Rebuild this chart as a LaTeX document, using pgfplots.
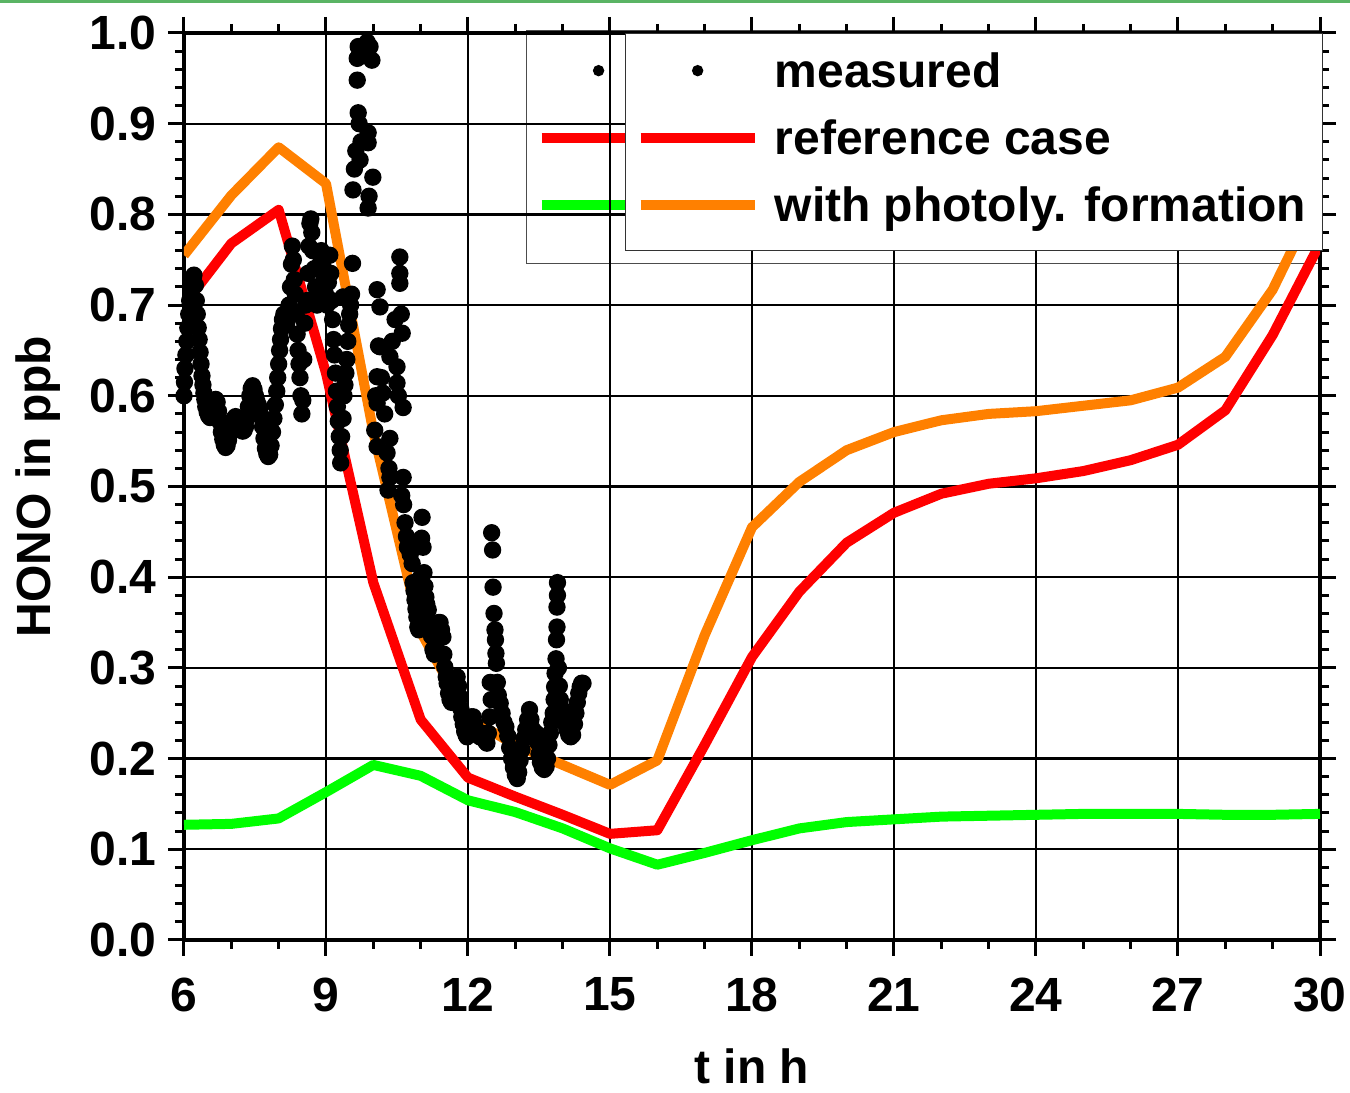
\documentclass[border=0pt]{standalone}
\usepackage{pgfplots}
\pgfplotsset{compat=1.18}
\usepackage{fontspec}
\setmainfont{Liberation Sans}
\definecolor{cred}{RGB}{255,0,0}
\definecolor{corange}{RGB}{255,128,0}
\definecolor{cgreen}{RGB}{0,255,0}
\definecolor{topgreen}{RGB}{90,180,100}
\newcommand\lfont{\fontsize{14.4}{17}\selectfont\bfseries}

\pgfplotstableread{
x y
6.00 0.600
6.01 0.615
6.02 0.630
6.04 0.645
6.06 0.660
6.08 0.675
6.10 0.690
6.12 0.705
6.15 0.715
6.18 0.725
6.21 0.733
6.24 0.722
6.26 0.705
6.28 0.690
6.30 0.675
6.32 0.662
6.34 0.648
6.36 0.635
6.38 0.622
6.40 0.612
6.42 0.603
6.44 0.596
6.46 0.588
6.49 0.582
6.52 0.578
6.55 0.576
6.58 0.580
6.61 0.586
6.64 0.592
6.67 0.596
6.70 0.593
6.73 0.583
6.76 0.571
6.79 0.560
6.82 0.552
6.85 0.546
6.88 0.543
6.91 0.545
6.94 0.551
6.97 0.558
7.00 0.565
7.03 0.571
7.06 0.575
7.09 0.577
7.12 0.576
7.15 0.572
7.18 0.567
7.21 0.563
7.24 0.561
7.27 0.562
7.30 0.566
7.33 0.575
7.36 0.588
7.39 0.600
7.42 0.608
7.45 0.611
7.48 0.607
7.51 0.600
7.54 0.594
7.57 0.590
7.60 0.586
7.63 0.578
7.66 0.566
7.69 0.553
7.72 0.542
7.75 0.536
7.78 0.533
7.81 0.535
7.84 0.545
7.87 0.560
7.90 0.575
7.93 0.590
7.96 0.605
7.98 0.620
8.00 0.635
8.02 0.650
8.04 0.662
8.06 0.674
8.08 0.684
8.11 0.690
8.14 0.688
8.17 0.680
8.20 0.690
8.22 0.700
8.25 0.720
8.27 0.745
8.29 0.765
8.31 0.750
8.33 0.728
8.35 0.712
8.37 0.690
8.39 0.668
8.41 0.650
8.43 0.635
8.45 0.620
8.47 0.600
8.49 0.580
8.51 0.595
8.53 0.640
8.55 0.680
8.57 0.700
8.60 0.705
8.62 0.735
8.64 0.765
8.66 0.790
8.68 0.795
8.70 0.780
8.72 0.760
8.75 0.740
8.78 0.720
8.81 0.700
8.84 0.715
8.87 0.745
8.90 0.760
8.93 0.745
8.96 0.728
8.99 0.712
9.02 0.700
9.05 0.725
9.08 0.755
9.10 0.735
9.12 0.705
9.14 0.684
9.16 0.662
9.18 0.645
9.20 0.625
9.22 0.605
9.24 0.588
9.26 0.572
9.28 0.555
9.30 0.540
9.31 0.526
9.33 0.555
9.36 0.575
9.38 0.600
9.40 0.612
9.42 0.625
9.44 0.640
9.46 0.660
9.48 0.678
9.50 0.690
9.52 0.700
9.54 0.712
9.36 0.709
9.56 0.746
9.57 0.827
9.60 0.850
9.63 0.870
9.66 0.948
9.66 0.972
9.68 0.985
9.68 0.912
9.70 0.900
9.72 0.860
9.74 0.880
9.78 0.975
9.82 0.980
9.87 0.990
9.89 0.890
9.89 0.879
9.89 0.807
9.91 0.820
9.93 0.985
9.97 0.970
9.99 0.841
10.03 0.562
10.05 0.600
10.08 0.717
10.08 0.621
10.08 0.592
10.08 0.544
10.11 0.655
10.14 0.698
10.14 0.654
10.17 0.620
10.20 0.603
10.24 0.580
10.29 0.537
10.31 0.496
10.33 0.520
10.35 0.510
10.35 0.553
10.35 0.643
10.40 0.660
10.46 0.684
10.50 0.632
10.50 0.614
10.53 0.600
10.56 0.753
10.56 0.735
10.56 0.724
10.59 0.690
10.61 0.669
10.63 0.587
10.63 0.510
10.60 0.490
10.64 0.480
10.67 0.460
10.70 0.445
10.72 0.433
10.75 0.440
10.78 0.425
10.82 0.415
10.84 0.394
10.86 0.385
10.88 0.375
10.90 0.365
10.92 0.356
10.94 0.345
10.96 0.342
10.98 0.360
11.00 0.400
11.02 0.443
11.03 0.466
11.05 0.433
11.07 0.405
11.09 0.390
11.11 0.378
11.13 0.370
11.16 0.364
11.18 0.350
11.20 0.345
11.23 0.335
11.26 0.320
11.29 0.315
11.32 0.325
11.35 0.340
11.38 0.350
11.41 0.350
11.44 0.342
11.47 0.334
11.49 0.315
11.51 0.301
11.54 0.290
11.56 0.283
11.59 0.272
11.62 0.265
11.65 0.262
11.68 0.268
11.71 0.280
11.74 0.288
11.77 0.290
11.80 0.280
11.83 0.268
11.85 0.255
11.87 0.246
11.90 0.238
11.93 0.230
11.96 0.226
11.98 0.224
12.01 0.232
12.04 0.240
12.07 0.246
12.11 0.246
12.14 0.238
12.17 0.230
12.21 0.226
12.25 0.224
12.29 0.228
12.33 0.222
12.37 0.219
12.40 0.217
12.43 0.228
12.46 0.246
12.49 0.265
12.47 0.284
12.50 0.449
12.52 0.430
12.53 0.389
12.55 0.360
12.57 0.342
12.58 0.331
12.59 0.316
12.60 0.305
12.62 0.284
12.64 0.270
12.68 0.261
12.72 0.250
12.76 0.240
12.80 0.235
12.84 0.225
12.88 0.212
12.92 0.200
12.96 0.190
13.00 0.182
13.04 0.178
13.07 0.185
13.10 0.198
13.14 0.210
13.18 0.222
13.22 0.232
13.26 0.243
13.30 0.254
13.33 0.243
13.37 0.232
13.41 0.225
13.44 0.228
13.47 0.218
13.50 0.205
13.53 0.196
13.57 0.190
13.61 0.188
13.65 0.191
13.68 0.200
13.71 0.215
13.74 0.228
13.77 0.240
13.80 0.250
13.82 0.265
13.83 0.279
13.84 0.294
13.86 0.310
13.87 0.331
13.88 0.345
13.88 0.367
13.89 0.380
13.89 0.394
13.91 0.300
13.93 0.280
13.95 0.265
13.98 0.255
14.02 0.245
14.06 0.238
14.09 0.232
14.13 0.226
14.17 0.224
14.21 0.226
14.25 0.238
14.28 0.250
14.31 0.262
14.34 0.272
14.37 0.279
14.40 0.283
14.43 0.283
}\measured

\pgfplotstableread{
x y
6 0.700
7 0.768
8 0.805
9 0.625
10 0.394
11 0.243
12 0.179
13 0.158
14 0.138
15 0.117
16 0.121
17 0.215
18 0.312
19 0.384
20 0.438
21 0.471
22 0.492
23 0.503
24 0.509
25 0.517
26 0.529
27 0.546
28 0.584
29 0.667
30 0.768
}\refcase

\pgfplotstableread{
x y
6 0.755
7 0.821
8 0.874
9 0.834
10 0.560
11 0.340
12 0.245
13 0.215
14 0.193
15 0.171
16 0.198
17 0.336
18 0.455
19 0.505
20 0.540
21 0.560
22 0.573
23 0.580
24 0.583
25 0.589
26 0.595
27 0.609
28 0.643
29 0.717
30 0.824
}\photoly

\pgfplotstableread{
x y
6 0.127
7 0.128
8 0.134
9 0.163
10 0.193
11 0.181
12 0.154
13 0.141
14 0.123
15 0.101
16 0.083
17 0.096
18 0.110
19 0.123
20 0.130
21 0.133
22 0.136
23 0.137
24 0.138
25 0.139
26 0.139
27 0.139
28 0.138
29 0.138
30 0.139
}\greencase

\begin{document}
\begin{tikzpicture}
\pgfplotsset{
  legcommon/.style={
    legend image code/.code={\draw[mark repeat=2,mark phase=2,##1] plot coordinates {(0pt,5.1pt) (17.1pt,5.1pt) (34.2pt,5.1pt)};},
    legend image post style={mark size=1.5pt},
  },
}
% back (partly hidden) legend
\begin{axis}[
  scale only axis, width=340.8pt, height=272.1pt,
  xmin=6, xmax=30, ymin=0, ymax=1, hide axis,
  legcommon,
  legend style={at={(axis description cs:0.301,1.0033)}, anchor=north west,
    draw=black!70, line width=0.4pt, fill=none,
    inner xsep=3pt, inner ysep=6.6pt, row sep=6.6pt,
    font=\lfont, cells={anchor=base west},
    /tikz/every odd column/.append style={column sep=2.5pt},
    nodes={inner xsep=2pt, inner ysep=0pt, text height=10.5pt, text depth=3pt}},
]
\addlegendimage{only marks, mark=*, black, mark options={draw=none, fill=black}}
\addlegendentry{\makebox[187.9pt]{}}
\addlegendimage{cred, line width=3pt}
\addlegendentry{\makebox[187.9pt]{}}
\addlegendimage{cgreen, line width=3pt}
\addlegendentry[text depth=6pt]{\makebox[187.9pt]{}}
\end{axis}
% main axis
\begin{axis}[
  scale only axis, width=340.8pt, height=272.1pt,
  xmin=6, xmax=30, ymin=0, ymax=1,
  xtick={6,9,12,15,18,21,24,27,30},
  ytick={0,0.1,0.2,0.3,0.4,0.5,0.6,0.7,0.8,0.9,1.0},
  minor x tick num=2, minor y tick num=4,
  tick align=outside,
  major tick length=4.8pt, minor tick length=2.7pt,
  every tick/.style={black, line width=0.9pt},
  grid=major, major grid style={black, line width=0.7pt},
  axis line style={line width=1.3pt},
  /pgf/number format/assume math mode=true,
  ticklabel style={font=\lfont},
  xticklabel style={yshift=-3pt},
  yticklabel style={/pgf/number format/.cd, fixed, fixed zerofill, precision=1},
  xlabel={t in h}, ylabel={HONO in ppb},
  label style={font=\lfont},
  xlabel style={at={(axis description cs:0.5,-0.139)}, anchor=center, inner sep=0pt},
  ylabel style={at={(axis description cs:-0.128,0.5)}, anchor=center, inner sep=0pt},
  legcommon,
  reverse legend,
  legend style={at={(axis description cs:0.3882,1)}, anchor=north west,
    draw=black!80, line width=0.4pt, fill=white,
    inner xsep=3pt, inner ysep=5.7pt, row sep=6.6pt,
    font=\lfont, cells={anchor=base west},
    /tikz/every odd column/.append style={column sep=2.5pt},
    nodes={inner xsep=2pt, inner ysep=0pt, text height=10.5pt, text depth=3pt}},
]
\addplot[cgreen, line width=3pt, line join=round, forget plot] table[x=x,y=y] {\greencase};
\addplot[corange, line width=3pt, line join=round] table[x=x,y=y] {\photoly};
\addlegendentry{with photoly. formation}
\addplot[cred, line width=3pt, line join=round] table[x=x,y=y] {\refcase};
\addlegendentry{reference case}
\addplot[only marks, mark=*, mark size=2.4pt, black, mark options={draw=none, fill=black}] table[x=x,y=y] {\measured};
\addlegendentry{measured}
\end{axis}
\draw[topgreen, line width=0.9pt] (-55.2pt,281.4pt) -- (349.8pt,281.4pt);
\pgfresetboundingbox
\useasboundingbox (-55.2pt,-45.9pt) rectangle (349.8pt,282pt);
\end{tikzpicture}
\end{document}
